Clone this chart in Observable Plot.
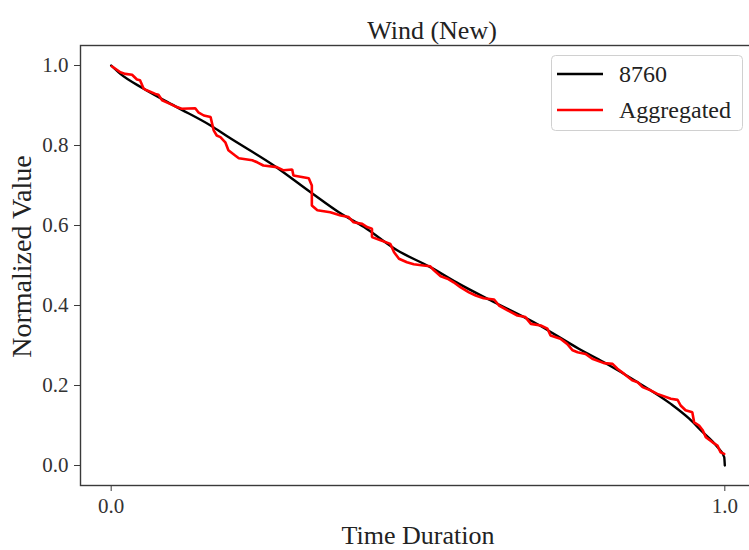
<!DOCTYPE html>
<html>
<head>
<meta charset="utf-8">
<script src="https://cdn.jsdelivr.net/npm/d3@7"></script>
<script src="https://cdn.jsdelivr.net/npm/@observablehq/plot@0.6"></script>
<style>
  html, body { margin: 0; padding: 0; background: #fff; overflow: hidden; }
  #chart svg { display: block; }
</style>
</head>
<body>
<div id="chart"></div>
<script>
const title = "Wind (New)";
const xLabel = "Time Duration";
const yLabel = "Normalized Value";
const seriesNames = ["8760", "Aggregated"];
const seriesColors = ["#000000", "#ff0000"];
const xTicks = [0, 1];
const yTicks = [0, 0.2, 0.4, 0.6, 0.8, 1.0];

// 8760 (full-resolution) duration curve
const fullX = [0, 0.015, 0.053, 0.107, 0.162, 0.191, 0.265, 0.325, 0.371, 0.412, 0.466, 0.520, 0.567, 0.618, 0.689, 0.762, 0.803, 0.858, 0.912, 0.942, 0.961, 0.988, 0.999, 1.0];
const fullY = [1.0, 0.979, 0.942, 0.896, 0.850, 0.821, 0.750, 0.683, 0.633, 0.596, 0.538, 0.496, 0.454, 0.413, 0.358, 0.292, 0.258, 0.208, 0.154, 0.117, 0.088, 0.046, 0.021, 0.0];

// Aggregated duration curve
const aggX = [0.001, 0.015, 0.023, 0.034, 0.042, 0.047, 0.053, 0.058, 0.072, 0.077, 0.083, 0.096, 0.107, 0.115, 0.137, 0.142, 0.151, 0.162, 0.167, 0.172, 0.178, 0.186, 0.191, 0.202, 0.208, 0.230, 0.238, 0.248, 0.270, 0.281, 0.295, 0.297, 0.322, 0.327, 0.327, 0.336, 0.357, 0.374, 0.387, 0.395, 0.409, 0.417, 0.425, 0.425, 0.439, 0.455, 0.461, 0.469, 0.482, 0.493, 0.509, 0.520, 0.526, 0.537, 0.548, 0.558, 0.569, 0.583, 0.594, 0.607, 0.624, 0.632, 0.646, 0.662, 0.675, 0.684, 0.700, 0.711, 0.716, 0.732, 0.743, 0.752, 0.760, 0.773, 0.784, 0.803, 0.817, 0.825, 0.836, 0.849, 0.858, 0.866, 0.879, 0.890, 0.912, 0.923, 0.928, 0.936, 0.947, 0.950, 0.958, 0.964, 0.969, 0.980, 0.988, 0.993, 0.999];
const aggY = [0.998, 0.983, 0.979, 0.977, 0.965, 0.963, 0.942, 0.938, 0.929, 0.927, 0.913, 0.904, 0.896, 0.892, 0.893, 0.883, 0.875, 0.871, 0.838, 0.825, 0.821, 0.808, 0.788, 0.775, 0.768, 0.763, 0.758, 0.750, 0.746, 0.738, 0.740, 0.725, 0.718, 0.700, 0.650, 0.638, 0.633, 0.625, 0.621, 0.608, 0.604, 0.596, 0.592, 0.571, 0.563, 0.554, 0.533, 0.517, 0.508, 0.503, 0.500, 0.498, 0.488, 0.473, 0.467, 0.458, 0.446, 0.433, 0.425, 0.418, 0.415, 0.400, 0.388, 0.375, 0.371, 0.354, 0.350, 0.342, 0.325, 0.317, 0.304, 0.288, 0.283, 0.279, 0.267, 0.256, 0.254, 0.242, 0.229, 0.213, 0.208, 0.196, 0.188, 0.179, 0.167, 0.164, 0.150, 0.138, 0.133, 0.108, 0.100, 0.088, 0.071, 0.058, 0.050, 0.033, 0.029];

const fullData = fullX.map((x, i) => ({x, y: fullY[i]}));
const aggData = aggX.map((x, i) => ({x, y: aggY[i]}));

const FONT = "Liberation Serif";
const axisColor = "#3a3a3a";

const plot = Plot.plot({
  width: 749,
  height: 550,
  marginLeft: 80,
  marginTop: 45,
  marginBottom: 65,
  marginRight: -6,
  style: {fontFamily: FONT, background: "#fff", color: "#222"},
  x: {domain: [-0.05, 1.05]},
  y: {domain: [-0.05, 1.05]},
  marks: [
    Plot.line(fullData, {x: "x", y: "y", stroke: seriesColors[0], strokeWidth: 2.4, curve: "monotone-x"}),
    Plot.line(aggData, {x: "x", y: "y", stroke: seriesColors[1], strokeWidth: 2.6, strokeLinejoin: "miter"}),
    Plot.frame({stroke: axisColor, strokeWidth: 1.4}),
    Plot.axisX({ticks: xTicks, tickFormat: d3.format(".1f"), tickSize: 6, tickPadding: 7, fontSize: 21, stroke: axisColor, label: null, fill: "#333"}),
    Plot.axisY({ticks: yTicks, tickFormat: d3.format(".1f"), tickSize: 6, tickPadding: 6, fontSize: 21, stroke: axisColor, label: null, fill: "#333"}),
    Plot.text([title], {frameAnchor: "top", text: d => d, dy: -25, dx: 14, fontSize: 26, fill: "#222"}),
    Plot.text([xLabel], {frameAnchor: "bottom", text: d => d, dy: 58, fontSize: 26, fill: "#222"}),
    Plot.text([yLabel], {frameAnchor: "left", textAnchor: "middle", text: d => d, rotate: -90, dx: -58, dy: -9, fontSize: 28, fill: "#222"})
  ]
});

// Legend box (matplotlib style, upper right)
const svg = d3.select(plot);
const lg = svg.append("g").attr("font-family", FONT).attr("text-anchor", "start");
lg.append("rect")
  .attr("x", 551.5).attr("y", 55.5).attr("width", 191).attr("height", 75)
  .attr("rx", 4).attr("fill", "#fff").attr("fill-opacity", 0.85)
  .attr("stroke", "#d0d0d0").attr("stroke-width", 1);
seriesNames.forEach((name, i) => {
  const cy = 74 + i * 36;
  lg.append("line").attr("x1", 557).attr("x2", 603).attr("y1", cy).attr("y2", cy)
    .attr("stroke", seriesColors[i]).attr("stroke-width", 2.6);
  lg.append("text").attr("x", 619).attr("y", cy).attr("dy", "0.35em")
    .attr("text-anchor", "start")
    .attr("font-size", 24).attr("fill", "#222").text(name);
});

document.getElementById("chart").appendChild(plot);
</script>
</body>
</html>
